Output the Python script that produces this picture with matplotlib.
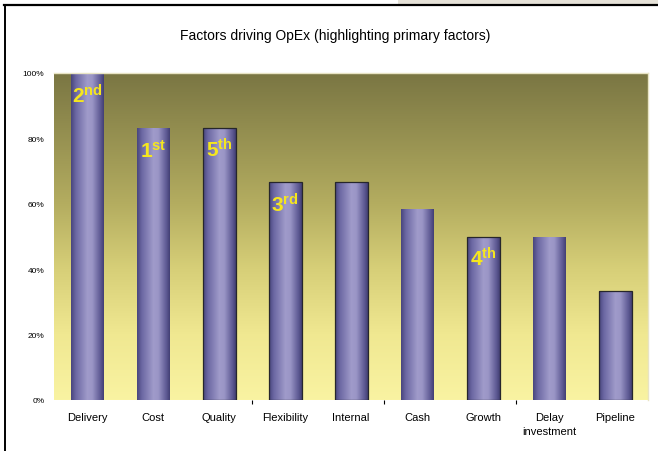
import numpy as np
import matplotlib
matplotlib.use("Agg")
import matplotlib.pyplot as plt
from matplotlib.colors import LinearSegmentedColormap
from matplotlib.lines import Line2D
from matplotlib.patches import Rectangle

plt.rcParams['font.family'] = ['Liberation Sans', 'DejaVu Sans']
plt.rcParams['mathtext.fontset'] = 'custom'
plt.rcParams['mathtext.rm'] = 'Liberation Sans'
plt.rcParams['mathtext.bf'] = 'Liberation Sans:bold'

# Share of respondents naming each factor (%)
categories = ['Delivery', 'Cost', 'Quality', 'Flexibility', 'Internal',
              'Cash', 'Growth', 'Delay\ninvestment', 'Pipeline']
valores = [100, 83.3, 83.3, 66.7, 66.7, 58.3, 50, 50, 33.3]
# Ranking of the primary factors (None = not ranked)
ranking = [2, 1, 5, 3, None, None, 4, None, None]
sufixos = {1: 'st', 2: 'nd', 3: 'rd'}
y_ticks = [0, 20, 40, 60, 80, 100]

# Bars with a dark rim
contorno = [2, 3, 4, 6, 8]

fig = plt.figure(figsize=(6.58, 4.52), dpi=100)
W, H = 658, 452

# Frame around the slide
fig.patches.append(Rectangle((398 / W, 1 - 6 / H), 1, 6 / H, transform=fig.transFigure,
                             facecolor='#e6e2d8', edgecolor='none', zorder=0))
fig.lines.append(Line2D([4 / W, 1], [1 - 6 / H, 1 - 6 / H], transform=fig.transFigure,
                        color='black', linewidth=1.6))
fig.lines.append(Line2D([5 / W, 5 / W], [1 - 6 / H, 0], transform=fig.transFigure,
                        color='black', linewidth=1.4))

ax = fig.add_axes([54 / W, (H - 401) / H, 594 / W, 327 / H])
x = np.arange(len(categories))
ax.set_xlim(-0.5, len(categories) - 0.5)
ax.set_ylim(0, 100)

# Olive-to-yellow vertical background
fundo = LinearSegmentedColormap.from_list('fundo', [
    (0.0, (249 / 255, 243 / 255, 162 / 255)),
    (0.2, (240 / 255, 232 / 255, 145 / 255)),
    (0.4, (215 / 255, 207 / 255, 120 / 255)),
    (0.6, (180 / 255, 173 / 255, 96 / 255)),
    (1.0, (122 / 255, 118 / 255, 67 / 255)),
])
grad_v = np.linspace(0, 1, 256).reshape(-1, 1)
ax.imshow(grad_v, cmap=fundo, origin='lower', aspect='auto',
          extent=[-0.5, len(categories) - 0.5, 0, 100], zorder=0)

# Cylinder-like shading for the bars
cilindro = LinearSegmentedColormap.from_list('cilindro', [
    (0.0, (72 / 255, 69 / 255, 125 / 255)),
    (0.15, (108 / 255, 104 / 255, 163 / 255)),
    (0.5, (160 / 255, 155 / 255, 202 / 255)),
    (0.65, (154 / 255, 149 / 255, 198 / 255)),
    (0.9, (92 / 255, 88 / 255, 146 / 255)),
    (1.0, (66 / 255, 63 / 255, 115 / 255)),
])
grad_h = np.linspace(0, 1, 256).reshape(1, -1)

barras = ax.bar(x, valores, width=0.5, color='none', edgecolor='none', zorder=2)
for i, bar in enumerate(barras):
    bx, by = bar.get_x(), bar.get_y()
    bw, bh = bar.get_width(), bar.get_height()
    img = ax.imshow(grad_h, cmap=cilindro, aspect='auto',
                    extent=[bx, bx + bw, by, by + bh], zorder=2)
    img.set_clip_path(bar)
    if i in contorno:
        ax.add_patch(Rectangle((bx, by), bw, bh, facecolor='none',
                               edgecolor='#26262c', linewidth=0.9, zorder=3))

# Rank labels inside the bars
for i, rank in enumerate(ranking):
    if rank is None:
        continue
    suf = sufixos.get(rank, 'th')
    ax.annotate(rf'$\mathbf{{{rank}^{{{suf}}}}}$', (x[i], valores[i]),
                xytext=(0, -21), textcoords='offset points',
                ha='center', va='baseline', fontsize=15, color='#f5e61e', zorder=4)

ax.set_yticks(y_ticks, [f'{v}%' for v in y_ticks], fontsize=6)
ax.set_xticks(x, categories, fontsize=8, linespacing=1.5)
ax.tick_params(axis='both', length=0)
ax.tick_params(axis='x', pad=9)
ax.tick_params(axis='y', pad=7)
ax.set_xticks([2.5, 4.5, 6.5], minor=True)
ax.tick_params(axis='x', which='minor', length=3, width=0.8, color='black', direction='out')

for lado in ['left', 'bottom']:
    ax.spines[lado].set_visible(False)
for lado in ['top', 'right']:
    ax.spines[lado].set_color('#e8e4c4')
    ax.spines[lado].set_linewidth(1.0)

fig.text(335 / W, 1 - 36 / H, 'Factors driving OpEx (highlighting primary factors)',
         ha='center', va='center', fontsize=10)

fig.savefig('out.png', dpi=100, facecolor='white')
